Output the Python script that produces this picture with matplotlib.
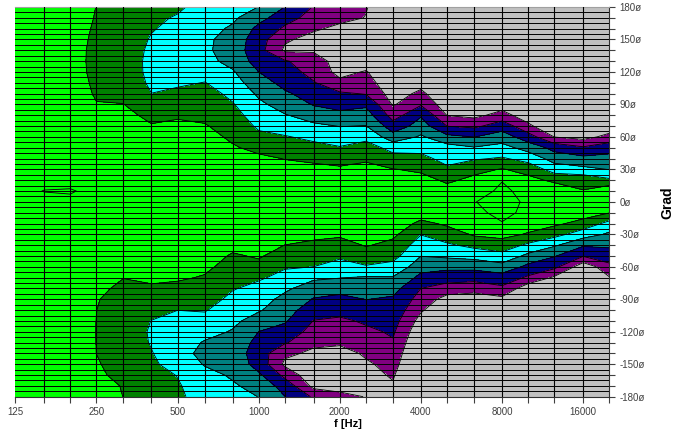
import numpy as np
import matplotlib
matplotlib.use("Agg")
import matplotlib.pyplot as plt
from matplotlib.ticker import FixedLocator, FixedFormatter, NullFormatter

# third-octave measurement frequencies (Hz)
freqs = [125, 160, 200, 250, 315, 400, 500, 630, 800, 1000, 1250, 1600,
         2000, 2500, 3150, 4000, 5000, 6300, 8000, 10000, 12500, 16000, 20000]
# measurement angles, +180 .. -180 deg
angles = list(range(180, -181, -10))

# attenuation re. on-axis (dB), one list per frequency, from +180 down to -180 deg
att_125 = [1.2, 1.2, 1.2, 1.1, 1.1, 1.0, 1.0, 0.9, 0.9, 0.8, 0.7, 0.6, 0.5, 0.4, 0.3, 0.3, 0.2, 0.2, 0.2,
           0.2, 0.2, 0.3, 0.3, 0.4, 0.5, 0.6, 0.7, 0.8, 0.9, 0.9, 1.0, 1.0, 1.1, 1.1, 1.2, 1.2, 1.2]
att_160 = [1.4, 1.4, 1.4, 1.3, 1.3, 1.2, 1.2, 1.1, 1.0, 0.9, 0.8, 0.7, 0.6, 0.5, 0.4, 0.3, 0.2, -0.02, 0.2,
           0.2, 0.2, 0.3, 0.4, 0.5, 0.6, 0.7, 0.8, 0.9, 1.0, 1.1, 1.2, 1.2, 1.3, 1.3, 1.4, 1.4, 1.4]
att_200 = [1.5, 1.6, 1.7, 1.8, 1.9, 2.0, 2.0, 1.9, 1.8, 1.6, 1.4, 1.2, 1.0, 0.8, 0.6, 0.4, 0.3, -0.08, 0.2,
           0.2, 0.3, 0.4, 0.6, 0.8, 1.0, 1.2, 1.4, 1.6, 1.8, 1.9, 2.0, 2.0, 1.9, 1.8, 1.7, 1.6, 1.5]
att_250 = [3.05, 3.19, 3.41, 3.62, 3.78, 3.75, 3.67, 3.47, 3.26, 2.9, 2.6, 2.3, 2.0, 1.6, 1.2, 0.8, 0.5, 0.3, 0.3,
           0.3, 0.5, 0.8, 1.2, 1.6, 2.0, 2.3, 2.52, 2.86, 2.98, 3.02, 3.03, 3.02, 3.01, 2.81, 2.65, 2.27, 2.0]
att_315 = [4.2, 4.3, 4.35, 4.4, 4.2, 4.1, 4.2, 4.1, 3.6, 2.95, 2.3, 1.9, 1.5, 1.1, 0.8, 0.5, 0.3, 0.2, 0.2,
           0.2, 0.3, 0.5, 0.9, 1.5, 2.2, 2.95, 3.5, 4.0, 4.3, 4.5, 4.6, 4.5, 4.3, 4.0, 3.6, 3.13, 3.03]
att_400 = [5.3, 5.55, 5.8, 6.25, 6.7, 7.0, 6.9, 6.55, 5.98, 4.9, 3.7, 2.8, 2.2, 1.6, 1.1, 0.7, 0.4, 0.2, 0.2,
           0.2, 0.4, 0.7, 1.1, 1.6, 2.2, 2.6, 3.3, 4.3, 5.3, 6.05, 6.3, 6.2, 5.85, 5.5, 5.1, 4.8, 4.5]
att_500 = [5.6, 6.22, 6.9, 7.5, 7.8, 7.8, 7.4, 6.5, 5.3, 4.4, 3.3, 2.5, 1.9, 1.4, 1.0, 0.6, 0.4, 0.2, 0.2,
           0.2, 0.4, 0.7, 1.1, 1.6, 2.2, 2.7, 3.6, 4.8, 5.98, 6.9, 7.5, 7.9, 8.0, 7.3, 6.1, 5.75, 5.6]
att_630 = [7.0, 7.6, 8.1, 8.45, 8.5, 8.2, 7.3, 5.9, 5.0, 4.3, 3.6, 2.8, 2.1, 1.5, 1.1, 0.7, 0.4, 0.2, 0.2,
           0.2, 0.4, 0.8, 1.3, 1.9, 2.5, 3.2, 4.0, 4.9, 5.8, 6.9, 8.2, 9.2, 9.8, 9.2, 8.1, 7.5, 7.0]
att_800 = [7.5, 8.5, 9.4, 10.2, 10.4, 9.9, 8.7, 7.7, 6.7, 5.8, 5.0, 4.2, 3.5, 2.7, 2.0, 1.3, 0.8, 0.4, 0.3,
           0.3, 0.7, 1.4, 2.3, 3.3, 4.0, 4.8, 5.8, 6.7, 7.6, 8.4, 9.2, 10.0, 10.4, 10.1, 9.4, 8.6, 8.0]
att_1000 = [9.05, 11.0, 12.8, 13.8, 14.0, 13.4, 11.98, 10.9, 9.5, 8.4, 7.5, 6.5, 5.3, 3.8, 2.4, 1.5, 0.9, 0.4, 0.3,
            0.3, 0.7, 1.3, 2.0, 2.7, 3.8, 5.6, 6.9, 7.9, 8.7, 10.3, 12.02, 13.0, 13.6, 13.2, 11.5, 10.2, 9.05]
att_1250 = [12.02, 13.8, 15.5, 17.6, 18.5, 14.7, 13.8, 12.8, 11.6, 10.3, 8.8, 7.3, 5.8, 4.3, 3.1, 2.0, 1.2, 0.6, 0.4,
            0.4, 1.0, 1.9, 3.02, 4.3, 5.7, 7.0, 8.5, 9.8, 10.8, 11.7, 13.0, 14.7, 17.4, 18.6, 15.8, 13.2, 11.9]
att_1600 = [15.2, 16.3, 17.6, 19.0, 18.3, 16.8, 16.0, 14.8, 13.3, 12.2, 10.4, 8.4, 6.7, 5.1, 3.6, 2.2, 1.3, 0.7, 0.5,
            0.5, 1.3, 2.3, 3.6, 4.8, 6.02, 8.5, 10.5, 12.2, 13.7, 15.1, 16.3, 17.4, 18.6, 20.2, 20.5, 18.9, 15.45]
att_2000 = [16.5, 17.2, 18.7, 20.5, 21.0, 19.2, 19.0, 17.2, 14.6, 13.0, 11.2, 9.1, 7.5, 5.8, 4.2, 2.5, 1.5, 0.8, 0.6,
            0.6, 1.6, 2.6, 4.0, 5.5, 7.2, 8.9, 11.0, 12.8, 14.1, 15.5, 16.6, 17.6, 19.0, 20.5, 21.0, 20.0, 16.5]
att_2500 = [17.8, 18.1, 19.5, 21.0, 21.5, 20.0, 17.7, 16.4, 15.2, 12.6, 10.6, 8.9, 6.8, 4.8, 3.4, 2.2, 1.3, 0.7, 0.5,
            0.5, 1.2, 2.0, 2.8, 4.2, 6.3, 9.3, 10.6, 11.95, 13.2, 14.6, 15.6, 16.5, 17.6, 18.4, 18.8, 18.6, 18.2]
att_3150 = [21.0, 22.0, 23.0, 23.0, 23.0, 22.5, 22.0, 21.0, 19.5, 18.3, 16.3, 13.7, 10.7, 7.0, 4.9, 2.9, 1.8, 1.0, 0.6,
            0.6, 1.4, 2.4, 3.8, 5.1, 6.9, 9.2, 11.0, 12.4, 13.2, 13.9, 14.6, 15.3, 16.2, 17.0, 17.7, 18.3, 18.8]
att_4000 = [22.0, 23.0, 23.0, 23.0, 23.0, 23.0, 21.0, 19.3, 17.2, 15.3, 12.3, 10.6, 8.6, 6.8, 5.3, 3.5, 2.0, 1.0, 0.5,
            1.5, 3.7, 5.9, 7.6, 8.95, 10.8, 12.9, 15.02, 16.3, 17.6, 19.2, 20.5, 21.5, 22.0, 22.0, 22.5, 23.0, 23.0]
att_5000 = [23.0, 23.0, 23.0, 23.0, 23.0, 23.0, 23.0, 22.5, 21.5, 20.0, 18.1, 15.05, 11.2, 7.8, 6.9, 5.5, 3.5, 1.9, 1.0,
            1.0, 2.5, 4.5, 6.4, 8.5, 11.2, 13.7, 16.3, 19.2, 21.0, 22.0, 23.0, 23.0, 23.0, 23.0, 23.0, 23.0, 23.0]
att_6300 = [23.0, 23.0, 23.0, 23.0, 23.0, 23.0, 23.0, 23.0, 22.0, 20.5, 18.8, 15.6, 12.05, 8.8, 6.3, 3.9, 2.2, 1.0, 0.05,
            0.4, 1.2, 2.6, 5.2, 8.0, 11.1, 14.0, 16.7, 19.8, 21.5, 22.5, 23.0, 23.0, 23.0, 23.0, 23.0, 23.0, 23.0]
att_8000 = [23.0, 23.0, 23.0, 23.0, 23.0, 23.0, 23.0, 23.0, 21.5, 19.5, 16.8, 13.4, 10.5, 8.0, 5.7, 2.8, 0.1, -0.5, -0.6,
            -0.5, 0.1, 2.1, 4.4, 7.0, 10.1, 13.3, 15.6, 18.8, 21.0, 22.5, 23.0, 23.0, 23.0, 23.0, 23.0, 23.0, 23.0]
att_10000 = [23.0, 23.0, 23.0, 23.0, 23.0, 23.0, 23.0, 23.0, 23.0, 21.5, 20.0, 17.2, 13.7, 10.2, 7.1, 4.2, 2.0, 0.9, 0.3,
             0.5, 1.5, 3.3, 6.6, 9.8, 12.8, 15.5, 20.0, 22.0, 23.0, 23.0, 23.0, 23.0, 23.0, 23.0, 23.0, 23.0, 23.0]
att_12500 = [23.0, 23.0, 23.0, 23.0, 23.0, 23.0, 23.0, 23.0, 23.0, 23.0, 23.0, 21.5, 18.05, 13.0, 10.3, 7.3, 3.7, 0.6, 0.3,
             0.8, 2.4, 5.0, 8.6, 11.8, 14.2, 18.5, 22.0, 23.0, 23.0, 23.0, 23.0, 23.0, 23.0, 23.0, 23.0, 23.0, 23.0]
att_16000 = [23.0, 23.0, 23.0, 23.0, 23.0, 23.0, 23.0, 23.0, 23.0, 23.0, 23.0, 21.5, 19.0, 14.6, 11.2, 8.2, 3.8, 2.9, 0.8,
             1.5, 4.1, 7.6, 11.6, 14.8, 20.0, 22.5, 23.0, 23.0, 23.0, 23.0, 23.0, 23.0, 23.0, 23.0, 23.0, 23.0, 23.0]
att_20000 = [23.0, 23.0, 23.0, 23.0, 23.0, 23.0, 23.0, 23.0, 23.0, 23.0, 23.0, 20.0, 17.0, 13.3, 11.0, 9.1, 5.4, 0.5, 0.3,
             2.9, 7.0, 9.5, 11.5, 13.5, 15.8, 18.2, 21.0, 22.5, 23.0, 23.0, 23.0, 23.0, 23.0, 23.0, 23.0, 23.0, 23.0]

# contour bands (dB of attenuation) and their colours; 0 dB line inside the green
levels = [-5, 0, 3, 6, 9, 12, 15, 18, 40]
band_colors = ['#00ff00', '#00ff00', '#008000', '#00ffff', '#008080',
               '#000080', '#800080', '#c0c0c0']

octave_ticks = [125, 250, 500, 1000, 2000, 4000, 8000, 16000]
angle_ticks = list(range(-180, 181, 30))
angle_labels = [f"{a}ø" for a in angle_ticks]

atten = np.array([att_125, att_160, att_200, att_250, att_315, att_400, att_500, att_630,
                  att_800, att_1000, att_1250, att_1600, att_2000, att_2500, att_3150,
                  att_4000, att_5000, att_6300, att_8000, att_10000, att_12500,
                  att_16000, att_20000]).T

F, A = np.meshgrid(freqs, angles)

plt.rcParams['font.family'] = ['Liberation Sans', 'DejaVu Sans']

fig = plt.figure(figsize=(6.85, 4.34), dpi=100)
ax = fig.add_axes([15.3 / 685, 37.3 / 434, 594 / 685, 389.7 / 434])

ax.contourf(F, A, atten, levels=levels, colors=band_colors, zorder=1)
ax.contour(F, A, atten, levels=levels[1:-1], colors='black', linewidths=0.6, zorder=2)

ax.set_xscale('log')
ax.set_xlim(125, 20000)
ax.set_ylim(-180, 180)

# grid: every third octave, every 5 degrees
for f in freqs[1:-1]:
    ax.axvline(f, color='black', lw=0.8, zorder=3)
for a in range(-175, 180, 5):
    ax.axhline(a, color='black', lw=0.7, zorder=3)

ax.xaxis.set_major_locator(FixedLocator(octave_ticks))
ax.xaxis.set_major_formatter(FixedFormatter([str(f) for f in octave_ticks]))
ax.xaxis.set_minor_locator(FixedLocator([f for f in freqs if f not in octave_ticks]))
ax.xaxis.set_minor_formatter(NullFormatter())

ax.yaxis.tick_right()
ax.yaxis.set_major_locator(FixedLocator(angle_ticks))
ax.yaxis.set_major_formatter(FixedFormatter(angle_labels))
ax.yaxis.set_minor_locator(FixedLocator(list(range(-170, 180, 10))))

ax.tick_params(axis='x', which='both', direction='out', length=4.5, width=0.8,
               color='#404040', labelsize=7, labelcolor='#404040', pad=3)
ax.tick_params(axis='y', which='both', direction='out', length=4, width=0.8,
               color='#404040', labelsize=7, labelcolor='#404040', pad=3.5)

ax.spines['left'].set_visible(False)
ax.spines['top'].set_color('#a0a0a0')
ax.spines['right'].set_color('#303030')
ax.spines['bottom'].set_color('#303030')

fig.text(348 / 685, 1 - 424 / 434, 'f [Hz]', ha='center', va='center',
         fontsize=8, fontweight='bold')
fig.text(667 / 685, 1 - 203 / 434, 'Grad', ha='center', va='center',
         rotation=90, fontsize=10, fontweight='bold')

fig.savefig('out.png', dpi=100)
